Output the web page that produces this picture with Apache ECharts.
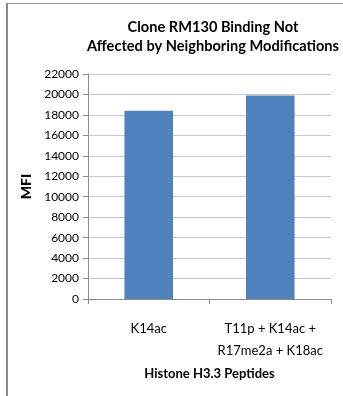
<!DOCTYPE html>
<html><head><meta charset="utf-8">
<script src="https://cdn.jsdelivr.net/npm/echarts@6/dist/echarts.min.js"></script>
<style>html,body{margin:0;padding:0;background:#fff}#c{width:343px;height:396px}</style>
</head><body><div id="c"></div>
<script>
const categories = ['K14ac', 'T11p + K14ac +\nR17me2a + K18ac'];
const values = [18400, 19900];
const yTicks = { min: 0, max: 22000, interval: 2000 };
const titleText = 'Clone RM130 Binding Not\nAffected by Neighboring Modifications';
const xName = 'Histone H3.3 Peptides';
const yName = 'MFI';

const chart = echarts.init(document.getElementById('c'));
const font = 'Lato, "Open Sans", sans-serif';
chart.setOption({
  animation: false,
  graphic: [
    { type: 'line', shape: { x1: 7, y1: 3.5, x2: 343, y2: 3.5 }, style: { stroke: '#9a9a9a', lineWidth: 1 } },
    { type: 'line', shape: { x1: 7, y1: 3, x2: 7, y2: 396 }, style: { stroke: '#8a8a8a', lineWidth: 2 } }
  ],
  title: {
    text: titleText, left: 208, top: 13, textAlign: 'center',
    textStyle: { fontFamily: font, fontWeight: 'bold', fontSize: 14.6, color: '#000', lineHeight: 19 }
  },
  grid: { left: 88, right: 12, top: 74, bottom: 97 },
  xAxis: {
    type: 'category', data: categories,
    name: xName, nameLocation: 'middle', nameGap: 68,
    nameTextStyle: { fontFamily: font, fontWeight: 'bold', fontSize: 13, color: '#000' },
    axisLine: { lineStyle: { color: '#8c8c8c' } },
    axisTick: { show: true, length: 5, lineStyle: { color: '#8c8c8c' } },
    axisLabel: { interval: 0, fontFamily: font, fontSize: 13, color: '#000', margin: 19, lineHeight: 22 }
  },
  yAxis: {
    type: 'value', min: yTicks.min, max: yTicks.max, interval: yTicks.interval,
    name: yName, nameLocation: 'middle', nameGap: 46, nameRotate: 90,
    nameTextStyle: { fontFamily: font, fontWeight: 900, fontSize: 14, color: '#000' },
    axisLine: { show: true, lineStyle: { color: '#8c8c8c' } },
    axisTick: { show: true, length: 5, lineStyle: { color: '#8c8c8c' } },
    axisLabel: { fontFamily: font, fontSize: 12, color: '#000', margin: 9, formatter: v => String(v) },
    splitLine: { lineStyle: { color: '#c8c8c8' } }
  },
  series: [{
    type: 'bar', data: values, barWidth: '40%',
    itemStyle: { color: '#4f81bd' }
  }]
});
</script></body></html>
